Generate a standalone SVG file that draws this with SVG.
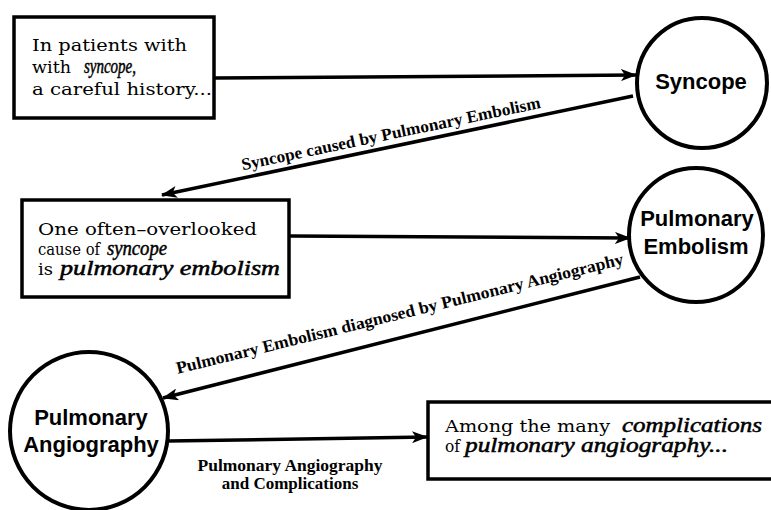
<svg xmlns="http://www.w3.org/2000/svg" width="771" height="510" viewBox="0 0 771 510">
<defs>
<style>
.box{fill:#fff;stroke:#000;stroke-width:3.5}
.circ{fill:#fff;stroke:#000;stroke-width:4}
.edge{fill:none;stroke:#000;stroke-width:3.5}
.reg{font-family:"DejaVu Serif","Liberation Serif",serif;font-size:17px;fill:#000}
.ital{font-family:"Liberation Serif","Times New Roman",serif;font-size:20px;font-style:italic;fill:#000;stroke:#000;stroke-width:0.5}
.clab{font-family:"Liberation Sans",Arial,sans-serif;font-size:22px;font-weight:bold;text-anchor:middle;fill:#000}
.elab{font-family:"Liberation Serif","Times New Roman",serif;font-size:17px;font-weight:bold;text-anchor:middle;fill:#000}
</style>
<marker id="ah" viewBox="0 0 16 12" refX="15" refY="6" markerWidth="16" markerHeight="12" markerUnits="userSpaceOnUse" orient="auto">
<path d="M0,0 L16,6 L0,12 L4,6 z" fill="#000"/>
</marker>
</defs>
<rect width="771" height="510" fill="#fff"/>

<g id="connectors">
<line class="edge" x1="214" y1="78" x2="636" y2="75" marker-end="url(#ah)"/>
<line class="edge" x1="633" y1="96" x2="162" y2="195" stroke-width="4.5" marker-end="url(#ah)"/>
<line class="edge" x1="290" y1="236" x2="630" y2="238" marker-end="url(#ah)"/>
<line class="edge" x1="640" y1="277" x2="163" y2="398" stroke-width="4.5" marker-end="url(#ah)"/>
<line class="edge" x1="168" y1="441" x2="427" y2="437" marker-end="url(#ah)"/>
<text class="elab" x="392" y="139" textLength="305" lengthAdjust="spacingAndGlyphs" transform="rotate(-11.8 392 139)">Syncope caused by Pulmonary Embolism</text>
<text class="elab" x="401" y="319" textLength="460" lengthAdjust="spacingAndGlyphs" transform="rotate(-13.8 401 319)">Pulmonary Embolism diagnosed by Pulmonary Angiography</text>
<text class="elab" x="290" y="471" textLength="185" lengthAdjust="spacingAndGlyphs">Pulmonary Angiography</text>
<text class="elab" x="290" y="489">and Complications</text>
</g>

<g id="box-history">
<rect class="box" x="14" y="17" width="200" height="101"/>
<text class="reg" x="32" y="51" textLength="155" lengthAdjust="spacingAndGlyphs">In patients with</text>
<text class="reg" x="32" y="73" textLength="39" lengthAdjust="spacingAndGlyphs">with</text>
<text class="ital" x="84" y="73" font-size="23" textLength="52" lengthAdjust="spacingAndGlyphs">syncope,</text>
<text class="reg" x="32" y="95" textLength="180" lengthAdjust="spacingAndGlyphs">a careful history...</text>
</g>

<g id="node-syncope">
<circle class="circ" cx="702" cy="83" r="65"/>
<text class="clab" x="701" y="89">Syncope</text>
</g>

<g id="box-overlooked">
<rect class="box" x="22" y="200" width="267" height="97"/>
<text class="reg" x="38" y="235" font-size="18" textLength="219" lengthAdjust="spacingAndGlyphs">One often–overlooked</text>
<text class="reg" x="38" y="255" font-size="16" textLength="62" lengthAdjust="spacingAndGlyphs">cause of</text>
<text class="ital" x="107" y="255" font-size="22" textLength="60" lengthAdjust="spacingAndGlyphs">syncope</text>
<text class="reg" x="38" y="275" textLength="15" lengthAdjust="spacingAndGlyphs">is</text>
<text class="ital" x="60" y="275" font-size="22" textLength="220" lengthAdjust="spacingAndGlyphs">pulmonary embolism</text>
</g>

<g id="node-embolism">
<circle class="circ" cx="696" cy="235" r="67"/>
<text class="clab" x="697" y="226">Pulmonary</text>
<text class="clab" x="696" y="254">Embolism</text>
</g>

<g id="node-angiography">
<circle class="circ" cx="89" cy="431" r="79"/>
<text class="clab" x="91" y="425">Pulmonary</text>
<text class="clab" x="91" y="452">Angiography</text>
</g>

<g id="box-complications">
<rect class="box" x="428" y="402" width="350" height="77"/>
<text class="reg" x="445" y="432" textLength="165" lengthAdjust="spacingAndGlyphs">Among the many</text>
<text class="ital" x="622" y="432" textLength="140" lengthAdjust="spacingAndGlyphs">complications</text>
<text class="reg" x="445" y="452" textLength="15" lengthAdjust="spacingAndGlyphs">of</text>
<text class="ital" x="465" y="452" textLength="263" lengthAdjust="spacingAndGlyphs">pulmonary angiography...</text>
</g>
</svg>
